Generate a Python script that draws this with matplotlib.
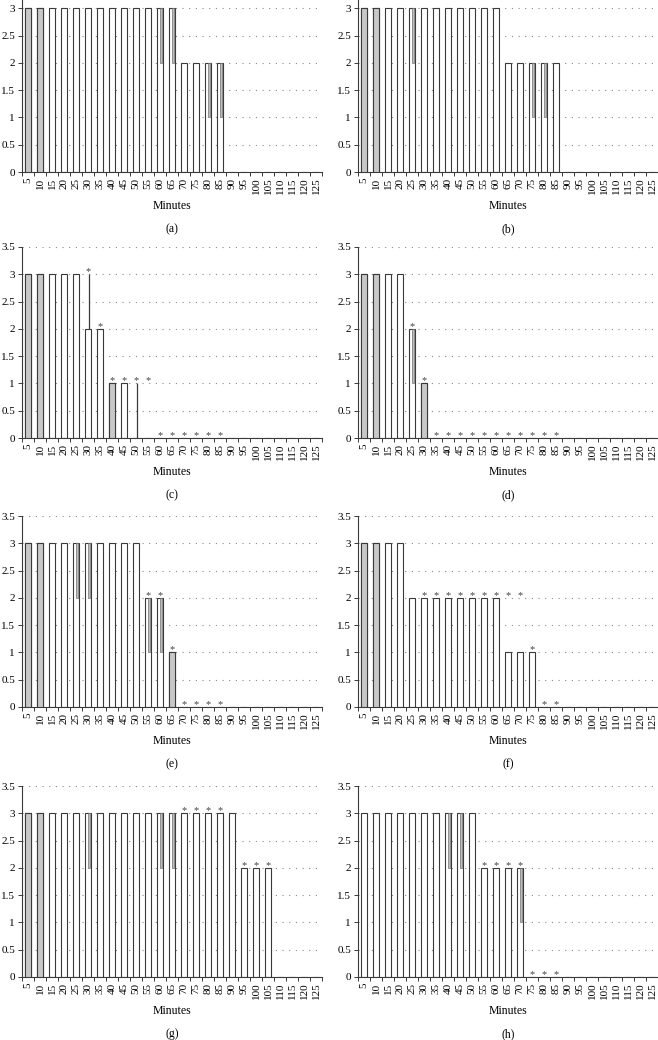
import matplotlib
matplotlib.use("Agg")
import matplotlib.pyplot as plt

plt.rcParams['font.family'] = ['Liberation Serif', 'DejaVu Serif']

minutes = [5, 10, 15, 20, 25, 30, 35, 40, 45, 50, 55, 60, 65, 70, 75, 80, 85,
           90, 95, 100, 105, 110, 115, 120, 125]

# median score per time point
med_a = [3, 3, 3, 3, 3, 3, 3, 3, 3, 3, 3, 3, 3, 2, 2, 2, 2, 0, 0, 0, 0, 0, 0, 0, 0]
med_b = [3, 3, 3, 3, 3, 3, 3, 3, 3, 3, 3, 3, 2, 2, 2, 2, 2, 0, 0, 0, 0, 0, 0, 0, 0]
med_c = [3, 3, 3, 3, 3, 2, 2, 1, 1, 0, 0, 0, 0, 0, 0, 0, 0, 0, 0, 0, 0, 0, 0, 0, 0]
med_d = [3, 3, 3, 3, 2, 1, 0, 0, 0, 0, 0, 0, 0, 0, 0, 0, 0, 0, 0, 0, 0, 0, 0, 0, 0]
med_e = [3, 3, 3, 3, 3, 3, 3, 3, 3, 3, 2, 2, 1, 0, 0, 0, 0, 0, 0, 0, 0, 0, 0, 0, 0]
med_f = [3, 3, 3, 3, 2, 2, 2, 2, 2, 2, 2, 2, 1, 1, 1, 0, 0, 0, 0, 0, 0, 0, 0, 0, 0]
med_g = [3, 3, 3, 3, 3, 3, 3, 3, 3, 3, 3, 3, 3, 3, 3, 3, 3, 3, 2, 2, 2, 0, 0, 0, 0]
med_h = [3, 3, 3, 3, 3, 3, 3, 3, 3, 3, 2, 2, 2, 2, 0, 0, 0, 0, 0, 0, 0, 0, 0, 0, 0]

# interquartile ranges (minute: (low, high)) where shown
rng_a = {5: (0, 3), 10: (0, 3), 60: (2, 3), 65: (2, 3), 80: (1, 2), 85: (1, 2)}
rng_b = {5: (0, 3), 10: (0, 3), 25: (2, 3), 75: (1, 2), 80: (1, 2)}
rng_c = {5: (0, 3), 10: (0, 3), 30: (2, 3), 40: (0, 1), 50: (0, 1)}
rng_d = {5: (0, 3), 10: (0, 3), 25: (1, 2), 30: (0, 1)}
rng_e = {5: (0, 3), 10: (0, 3), 25: (2, 3), 30: (2, 3), 55: (1, 2), 60: (1, 2), 65: (0, 1)}
rng_f = {5: (0, 3), 10: (0, 3)}
rng_g = {5: (0, 3), 10: (0, 3), 30: (2, 3), 60: (2, 3), 65: (2, 3)}
rng_h = {40: (2, 3), 45: (2, 3), 70: (1, 2)}

# significance stars (minute: level)
star_a = {}
star_b = {}
star_c = {30: 3, 35: 2, 40: 1, 45: 1, 50: 1, 55: 1, 60: 0, 65: 0, 70: 0, 75: 0, 80: 0, 85: 0}
star_d = {25: 2, 30: 1, 35: 0, 40: 0, 45: 0, 50: 0, 55: 0, 60: 0, 65: 0, 70: 0, 75: 0,
          80: 0, 85: 0}
star_e = {55: 2, 60: 2, 65: 1, 70: 0, 75: 0, 80: 0, 85: 0}
star_f = {30: 2, 35: 2, 40: 2, 45: 2, 50: 2, 55: 2, 60: 2, 65: 2, 70: 2, 75: 1, 80: 0, 85: 0}
star_g = {70: 3, 75: 3, 80: 3, 85: 3, 95: 2, 100: 2, 105: 2}
star_h = {55: 2, 60: 2, 65: 2, 70: 2, 75: 0, 80: 0, 85: 0}

panels = [("(a)", med_a, rng_a, star_a), ("(b)", med_b, rng_b, star_b),
          ("(c)", med_c, rng_c, star_c), ("(d)", med_d, rng_d, star_d),
          ("(e)", med_e, rng_e, star_e), ("(f)", med_f, rng_f, star_f),
          ("(g)", med_g, rng_g, star_g), ("(h)", med_h, rng_h, star_h)]

W, H = 658, 1040
fig = plt.figure(figsize=(W / 100, H / 100), dpi=100)

col_left = [22, 358]
row_bottom = [172, 438, 707, 977]
ax_w, ax_h = 300, 191
edge = '#3a3a3a'
bw = 0.47

for i, (tag, med, rng, stars) in enumerate(panels):
    left = col_left[i % 2]
    bottom = row_bottom[i // 2]
    ax = fig.add_axes([left / W, 1 - bottom / H, ax_w / W, ax_h / H])
    x = list(range(len(minutes)))

    for lvl in [0.5, 1, 1.5, 2, 2.5, 3, 3.5]:
        ax.axhline(lvl, color='#888888', lw=0.8, ls=(0, (1, 5)), zorder=0)

    ax.bar(x, med, width=bw, color='white', edgecolor=edge, linewidth=0.8, zorder=2)

    for m, (lo, hi) in rng.items():
        k = minutes.index(m)
        top_in = min(hi, med[k])
        if top_in > lo:
            if lo == 0 and hi >= med[k]:
                ax.bar(k, top_in - lo, bottom=lo, width=bw, color='#c8c8c8',
                       edgecolor=edge, linewidth=0.8, zorder=3)
            else:
                ax.bar(k + 0.07, top_in - lo, bottom=lo, width=0.22, color='#bdbdbd',
                       edgecolor='#707070', linewidth=0.5, zorder=3)
        if hi > med[k]:
            ax.vlines(k + 0.08, max(lo, med[k]), hi, color=edge, lw=0.9, zorder=3)

    for m, lvl in stars.items():
        ax.text(minutes.index(m), lvl, "*", ha='center', va='baseline',
                fontsize=7.5, color='#444444', zorder=4)

    ax.set_xlim(-0.5, len(minutes) - 0.5)
    ax.set_ylim(0, 3.5)
    if i < 2:
        # top row is cropped above 3
        ax.set_yticks([0, 0.5, 1, 1.5, 2, 2.5, 3])
        ax.set_yticklabels(["0", "0.5", "1", "1.5", "2", "2.5", "3"])
    else:
        ax.set_yticks([0, 0.5, 1, 1.5, 2, 2.5, 3, 3.5])
        ax.set_yticklabels(["0", "0.5", "1", "1.5", "2", "2.5", "3", "3.5"])
    ax.set_xticks(x)
    ax.set_xticklabels([str(m) for m in minutes], rotation=90)
    ax.set_xticks([k + 0.5 for k in range(-1, len(minutes))], minor=True)
    ax.tick_params(axis='x', which='major', length=0, pad=4, labelsize=8)
    ax.tick_params(axis='x', which='minor', length=3, width=0.7, color=edge)
    ax.tick_params(axis='y', length=3, width=0.7, color=edge, labelsize=8, pad=2)
    for s in ['top', 'right']:
        ax.spines[s].set_visible(False)
    for s in ['left', 'bottom']:
        ax.spines[s].set_color(edge)
        ax.spines[s].set_linewidth(0.8)

    cx = (left + ax_w / 2) / W
    fig.text(cx, 1 - (bottom + 34) / H, "Minutes", ha='center', va='center', fontsize=8.5)
    fig.text(cx, 1 - (bottom + 57) / H, tag, ha='center', va='center', fontsize=8.5)

fig.savefig("out.png", dpi=100)
